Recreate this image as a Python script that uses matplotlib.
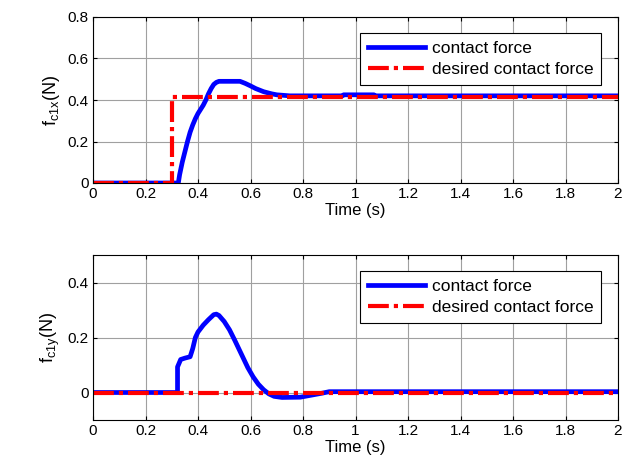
import numpy as np
import matplotlib
matplotlib.use('Agg')
import matplotlib.pyplot as plt

plt.rcParams['font.family'] = ['Liberation Sans', 'DejaVu Sans']
plt.rcParams['mathtext.default'] = 'regular'
plt.rcParams['font.size'] = 11

# contact force, x component
t_fx = [0.0, 0.325, 0.33, 0.34, 0.35, 0.36, 0.37, 0.38, 0.39, 0.40, 0.41, 0.42, 0.43,
        0.44, 0.45, 0.46, 0.47, 0.48, 0.50, 0.53, 0.56, 0.58, 0.60, 0.62, 0.65, 0.68,
        0.70, 0.75, 0.95, 0.955, 1.07, 1.075, 2.0]
fx = [0.0, 0.0, 0.04, 0.10, 0.15, 0.20, 0.245, 0.28, 0.31, 0.335, 0.355, 0.375, 0.40,
      0.43, 0.455, 0.475, 0.485, 0.49, 0.49, 0.49, 0.49, 0.48, 0.468, 0.455, 0.44, 0.43,
      0.425, 0.42, 0.42, 0.425, 0.425, 0.42, 0.42]
# desired force, x component
t_dx = [0.0, 0.3, 0.3, 2.0]
dx = [0.0, 0.0, 0.415, 0.415]

# contact force, y component
t_fy = [0.0, 0.322, 0.322, 0.334, 0.35, 0.37, 0.38, 0.39, 0.40, 0.42, 0.44, 0.46, 0.47,
        0.48, 0.50, 0.52, 0.54, 0.57, 0.59, 0.61, 0.63, 0.65, 0.67, 0.69, 0.72, 0.79,
        0.83, 0.87, 0.9, 2.0]
fy = [0.0, 0.0, 0.093, 0.12, 0.125, 0.13, 0.16, 0.20, 0.22, 0.245, 0.265, 0.283, 0.285,
      0.28, 0.258, 0.228, 0.19, 0.13, 0.09, 0.057, 0.03, 0.01, -0.005, -0.014, -0.018,
      -0.017, -0.01, -0.003, 0.003, 0.003]
# desired force, y component
t_dy = [0.0, 2.0]
dy = [0.0, 0.0]

dashdot = (0, (5, 1.2, 1, 1.2))

fig = plt.figure(figsize=(6.34, 4.68), dpi=100)
ax1 = fig.add_axes([93 / 634, 1 - 183 / 468, 525 / 634, 166 / 468])
ax2 = fig.add_axes([93 / 634, 1 - 420 / 468, 525 / 634, 165 / 468])

for ax, tf, f, td, d, lab, ylim, yt in [
        (ax1, t_fx, fx, t_dx, dx, '$f_{c1x}$(N)', (0, 0.8), [0, 0.2, 0.4, 0.6, 0.8]),
        (ax2, t_fy, fy, t_dy, dy, '$f_{c1y}$(N)', (-0.1, 0.5), [0, 0.2, 0.4])]:
    ax.plot(tf, f, color='#0000ff', lw=3.4, label='contact force', solid_joinstyle='round')
    ax.plot(td, d, color='#ff0000', lw=3.0, linestyle=dashdot, label='desired contact force')
    ax.set_xlim(0, 2)
    ax.set_ylim(*ylim)
    ax.set_xticks(np.arange(0, 2.01, 0.2))
    ax.set_xticklabels(['0', '0.2', '0.4', '0.6', '0.8', '1', '1.2', '1.4', '1.6', '1.8', '2'])
    ax.set_yticks(yt)
    ax.set_yticklabels(['0' if v == 0 else f'{v:g}' for v in yt])
    ax.grid(True, color='#a0a0a0', lw=0.8)
    ax.tick_params(direction='in', top=True, right=True, length=3, labelsize=11, pad=3)
    ax.set_xlabel('Time (s)', fontsize=12, labelpad=1)
    ax.set_ylabel(lab, fontsize=13, labelpad=4)
    for s in ax.spines.values():
        s.set_linewidth(0.8)
    leg = ax.legend(loc='upper right', bbox_to_anchor=(0.985, 0.955), fontsize=12.5,
                    fancybox=False, framealpha=1, edgecolor='black',
                    handlelength=3.3, borderpad=0.45, labelspacing=0.35, handletextpad=0.4)
    leg.get_frame().set_linewidth(0.8)

fig.savefig('out.png', dpi=100)
